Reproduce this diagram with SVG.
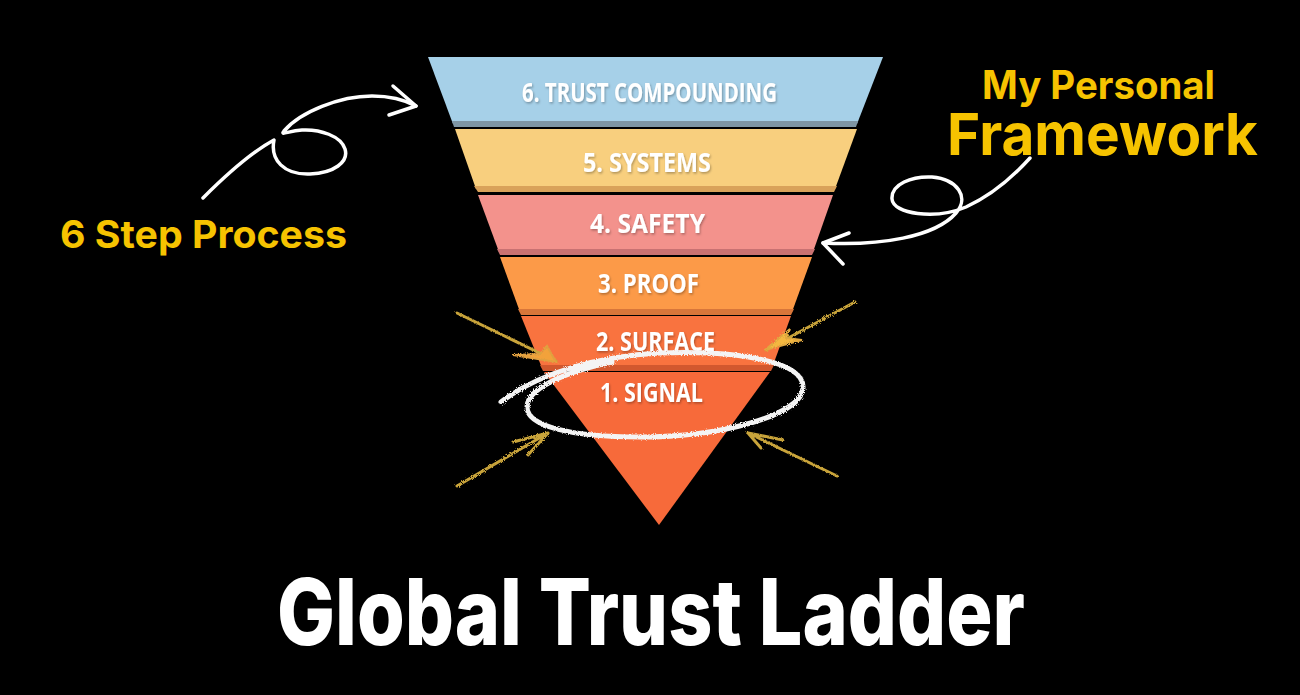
<svg xmlns="http://www.w3.org/2000/svg" width="1300" height="695" viewBox="0 0 1300 695">
  <defs>
    <style>
      .band-label { font-family: "Open Sans", "Noto Sans", "DejaVu Sans", sans-serif; font-weight: 700; font-size: 27px; fill: #ffffff; }
      .yellow { font-family: Inter, "Liberation Sans", sans-serif; font-weight: 700; fill: #F6C300; }
      .title { font-family: Inter, "Liberation Sans", sans-serif; font-weight: 800; font-size: 92px; fill: #ffffff; }
      .hand { fill: none; stroke: #ffffff; stroke-width: 3.5; stroke-linecap: round; stroke-linejoin: round; }
      .gold { fill: none; stroke: #C9A43A; stroke-width: 3; stroke-linecap: round; stroke-linejoin: round; }
      .chalk { fill: none; stroke: #f4f4f4; stroke-width: 5; stroke-linecap: round; }
    </style>
    <filter id="shadow" x="-10%" y="-30%" width="120%" height="160%">
      <feDropShadow dx="1" dy="1.5" stdDeviation="1" flood-color="#000" flood-opacity="0.3"/>
    </filter>
    <filter id="rough" x="-10%" y="-10%" width="120%" height="120%">
      <feTurbulence type="fractalNoise" baseFrequency="1.1" numOctaves="2" result="n"/>
      <feDisplacementMap in="SourceGraphic" in2="n" scale="3.5"/>
    </filter>
  </defs>

  <rect x="0" y="0" width="1300" height="695" fill="#000000"/>

  <g id="band-6">
    <polygon points="428,57 883,57 857,124 453,124" fill="#A6D0E8"/>
    <polygon points="452,121 858,121 856,127 454,127" fill="#7F96A4"/>
    <text class="band-label" x="522" y="102" textLength="255" lengthAdjust="spacingAndGlyphs" filter="url(#shadow)">6. TRUST COMPOUNDING</text>
  </g>
  <g id="band-5">
    <polygon points="455,129 857,129 835,189 476,189" fill="#F8CF7E"/>
    <polygon points="474,186 837,186 834,192 478,192" fill="#D9A25A"/>
    <text class="band-label" x="583" y="172" textLength="128" lengthAdjust="spacingAndGlyphs" filter="url(#shadow)">5. SYSTEMS</text>
  </g>
  <g id="band-4">
    <polygon points="478,195 833,195 813,252 499,252" fill="#F3928C"/>
    <polygon points="497,249 815,249 812,255 500,255" fill="#C97272"/>
    <text class="band-label" x="590" y="233" textLength="115" lengthAdjust="spacingAndGlyphs" filter="url(#shadow)">4. SAFETY</text>
  </g>
  <g id="band-3">
    <polygon points="500,257 812,257 792,312 520,312" fill="#FC9A48"/>
    <polygon points="518,309 794,309 791,315 521,315" fill="#D8763A"/>
    <text class="band-label" x="598" y="293" textLength="101" lengthAdjust="spacingAndGlyphs" filter="url(#shadow)">3. PROOF</text>
  </g>
  <g id="band-2">
    <polygon points="521,316 791,316 772,368 542,368" fill="#F9733F"/>
    <polygon points="540,365 774,365 771,371 543,371" fill="#D2582E"/>
    <text class="band-label" x="596" y="351" textLength="119" lengthAdjust="spacingAndGlyphs" filter="url(#shadow)">2. SURFACE</text>
  </g>
  <g id="band-1">
    <polygon points="544,372 770,372 659,525" fill="#F76A3A"/>
    <text class="band-label" x="600" y="402" textLength="103" lengthAdjust="spacingAndGlyphs" filter="url(#shadow)">1. SIGNAL</text>
  </g>

  <g id="label-step-process">
    <text class="yellow" x="60" y="248" font-size="38" textLength="287" lengthAdjust="spacingAndGlyphs">6 Step Process</text>
  </g>
  <g id="label-framework">
    <text class="yellow" x="982" y="99" font-size="39" textLength="233" lengthAdjust="spacingAndGlyphs">My Personal</text>
    <text class="yellow" x="947" y="155" font-size="58" textLength="311" lengthAdjust="spacingAndGlyphs">Framework</text>
  </g>
  <g id="title">
    <text class="title" x="277" y="645" textLength="748" lengthAdjust="spacingAndGlyphs">Global Trust Ladder</text>
  </g>

  <g id="connectors">
    <!-- left hand-drawn arrow -->
    <path class="hand" d="M203,198 C225,176 250,153 274,140 C270,160 284,175 310,174 C334,173 349,162 345,149 C341,136 320,129 302,130 C288,131 280,136 284,131 C300,112 340,96 372,96 C390,96 405,100 416,106"/>
    <path class="hand" d="M393,86 L416,106 L389,115"/>
    <!-- right hand-drawn arrow -->
    <path class="hand" d="M1030,158 C1010,180 990,196 966,207 C935,220 893,214 892,199 C891,184 912,176 932,177 C957,179 970,197 956,213 C935,237 880,246 823,243"/>
    <path class="hand" d="M849,233 L823,243 L843,264"/>
    <!-- chalk ellipse around 1. SIGNAL -->
    <g filter="url(#rough)">
      <path class="chalk" d="M501,402 C540,372 600,356 660,353 C740,350 805,362 803,388 C801,416 720,437 640,437 C570,437 527,426 527,407 C527,390 560,373 612,362"/>
    </g>
    <!-- gold chalk arrows -->
    <g filter="url(#rough)">
      <path class="gold" d="M457,313 L556,361"/>
      <polygon points="556,362 547,346 540,354 513,355" fill="#F2A23A" stroke="#E0A040" stroke-width="2"/>
      <path class="gold" d="M855,302 L766,350"/>
      <polygon points="765,350 790,329 786,338 802,340" fill="#F5B840" stroke="#E0A840" stroke-width="2"/>
      <path class="gold" d="M457,486 L548,433 M548,433 L513,442 M548,433 L528,455"/>
      <path class="gold" d="M837,476 L748,433 M748,433 L783,440 M748,433 L761,448"/>
    </g>
  </g>
</svg>
